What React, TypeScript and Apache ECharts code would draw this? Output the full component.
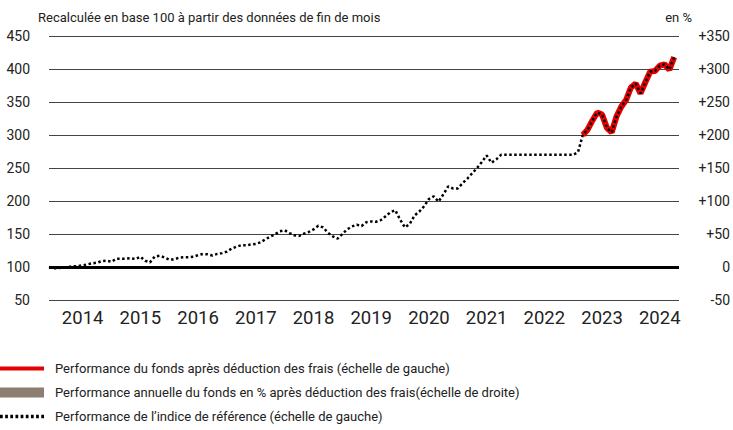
import React, { useEffect, useRef } from "react";
import * as echarts from "echarts";

const startYear = 2013;
const startMonth = 12; // Dec 2013
const monthCount = 132; // Dec 2013 .. Nov 2024

const yearLabels = ["2014", "2015", "2016", "2017", "2018", "2019", "2020", "2021", "2022", "2023", "2024"];

const leftTicks = [50, 100, 150, 200, 250, 300, 350, 400, 450];

// Benchmark (base 100), monthly from Dec 2013
const benchmark = [
  100, 98, 98.5, 99, 100, 101, 101.5, 102.5, 104, 105.6, 106.5, 109,
  109.6, 108, 112.6, 112.6, 112.6, 113.4, 112, 115.5, 109.5, 107, 116, 117,
  114.5, 111, 111.5, 114, 114.7, 114.7, 115.5, 118, 119.7, 119.2, 117.5, 119.8,
  121, 123.3, 128, 130.8, 133, 133, 134, 135, 137.5, 142, 146, 149.5,
  154, 155.5, 151.5, 148, 147, 150.5, 153, 157, 162.5, 160, 152, 146.5,
  143, 150, 157, 161.5, 164, 162, 168, 169, 168.5, 171, 177, 183,
  186, 172, 160, 165, 178, 184, 192, 203, 207, 199, 210, 222,
  219, 219, 227, 234, 242, 250, 259, 269, 258, 263, 270, 270,
  270, 270, 270, 270, 270, 270, 270, 270, 270, 270, 270, 270,
  270, 270, 274,
  300, 308, 322, 334, 331, 311, 304, 328, 343, 353, 372, 378,
  363, 380, 396, 397, 405, 407, 399, 418,
];

// Fund after fees (base 100), monthly from Mar 2023
const fundStartIndex = 111;
const fund = [
  300, 308, 322, 334, 331, 311, 304, 328, 343, 353, 372, 378,
  363, 380, 396, 397, 405, 407, 399, 418,
];

// Annual fund performance in % (right scale) – no full calendar year shown
const annualPerf: (number | null)[] = [];

const nameFund = "Performance du fonds après déduction des frais (échelle de gauche)";
const nameAnnual = "Performance annuelle du fonds en % après déduction des frais(échelle de droite)";
const nameBench = "Performance de l’indice de référence (échelle de gauche)";

const AXIS_FONT = "Roboto, 'Noto Sans', sans-serif";
const TEXT_FONT = "Roboto, 'Noto Sans', sans-serif";

function dottedIcon(): string {
  let d = "path://";
  for (let k = 0; k < 9; k++) {
    const x = k * 4.7;
    d += `M${x},0h2.5v3h-2.5z`;
  }
  return d;
}

export default function App() {
  const ref = useRef<HTMLDivElement>(null);

  useEffect(() => {
    if (!ref.current) return;
    const chart = echarts.init(ref.current, undefined, { renderer: "svg" });

    const categories: string[] = [];
    for (let i = 0; i < monthCount; i++) {
      const m0 = startMonth - 1 + i;
      const y = startYear + Math.floor(m0 / 12);
      const m = (m0 % 12) + 1;
      categories.push(`${y}-${String(m).padStart(2, "0")}`);
    }

    const fundData: (number | null)[] = categories.map((_, i) =>
      i >= fundStartIndex && i - fundStartIndex < fund.length ? fund[i - fundStartIndex] : null
    );
    const benchData: (number | null)[] = categories.map((_, i) => (i < benchmark.length ? benchmark[i] : null));

    chart.setOption({
      animation: false,
      textStyle: { fontFamily: AXIS_FONT },
      title: [
        {
          text: "Recalculée en base 100 à partir des données de fin de mois",
          left: 38,
          top: 11,
          padding: 0,
          textStyle: { fontSize: 13, fontWeight: "normal", color: "#222", fontFamily: TEXT_FONT },
        },
        {
          text: "en %",
          right: 41,
          top: 11,
          padding: 0,
          textStyle: { fontSize: 13, fontWeight: "normal", color: "#222", fontFamily: TEXT_FONT },
        },
      ],
      grid: { left: 49, right: 53, top: 36, bottom: 130, containLabel: false },
      legend: {
        orient: "vertical",
        left: 0,
        top: 362,
        height: 80,
        padding: 0,
        itemWidth: 44,
        itemHeight: 10,
        itemGap: 11,
        selectedMode: false,
        symbolKeepAspect: true,
        textStyle: { fontSize: 13, color: "#222", fontFamily: TEXT_FONT, padding: [0, 0, 0, 6] },
        data: [
          { name: nameFund, icon: "path://M0,0H44V4H0Z", itemStyle: { color: "#e60000" } },
          { name: nameAnnual, icon: "rect", itemStyle: { color: "#8c7e71" } },
          { name: nameBench, icon: dottedIcon(), itemStyle: { color: "#000" } },
        ],
      },
      xAxis: {
        type: "category",
        data: categories,
        boundaryGap: false,
        axisLine: { show: false },
        axisTick: { show: false },
        splitLine: { show: false },
        axisLabel: {
          interval: (idx: number) => idx % 12 === 7,
          formatter: (v: string) => {
            const y = v.slice(0, 4);
            return yearLabels.includes(y) ? y : "";
          },
          fontSize: 18.5,
          color: "#222",
          margin: 8,
          fontFamily: AXIS_FONT,
        },
      },
      yAxis: [
        {
          type: "value",
          min: 50,
          max: 450,
          interval: 50,
          axisLine: { show: false },
          axisTick: { show: false },
          axisLabel: {
            fontSize: 14,
            color: "#222",
            margin: 19,
            fontFamily: AXIS_FONT,
            formatter: (v: number) => (leftTicks.includes(v) ? String(v) : ""),
          },
          splitLine: { show: true, lineStyle: { color: "#444", width: 1 } },
        },
        {
          type: "value",
          min: -50,
          max: 350,
          interval: 50,
          position: "right",
          axisLine: { show: false },
          axisTick: { show: false },
          splitLine: { show: false },
          axisLabel: {
            fontSize: 14,
            color: "#222",
            margin: 51,
            align: "right",
            fontFamily: AXIS_FONT,
            formatter: (v: number) => (v > 0 ? "+" + v : String(v)),
          },
        },
      ],
      series: [
        {
          name: nameFund,
          type: "line",
          data: fundData,
          symbol: "none",
          showSymbol: false,
          connectNulls: false,
          z: 3,
          lineStyle: { color: "#e60000", width: 6 },
          itemStyle: { color: "#e60000" },
        },
        {
          name: nameAnnual,
          type: "bar",
          yAxisIndex: 1,
          data: annualPerf,
          itemStyle: { color: "#8c7e71" },
        },
        {
          name: nameBench,
          type: "line",
          data: benchData,
          symbol: "none",
          showSymbol: false,
          z: 4,
          lineStyle: { color: "#000", width: 2.5, type: [2.5, 2.5] },
          itemStyle: { color: "#000" },
          markLine: {
            silent: true,
            symbol: "none",
            label: { show: false },
            lineStyle: { color: "#000", width: 3, type: "solid" },
            data: [{ yAxis: 100 }],
            z: 2,
          },
        },
      ],
    });

    return () => chart.dispose();
  }, []);

  return (
    <div
      ref={ref}
      style={{ position: "fixed", left: 0, top: 0, width: 733, height: 430, background: "#fff" }}
    />
  );
}
